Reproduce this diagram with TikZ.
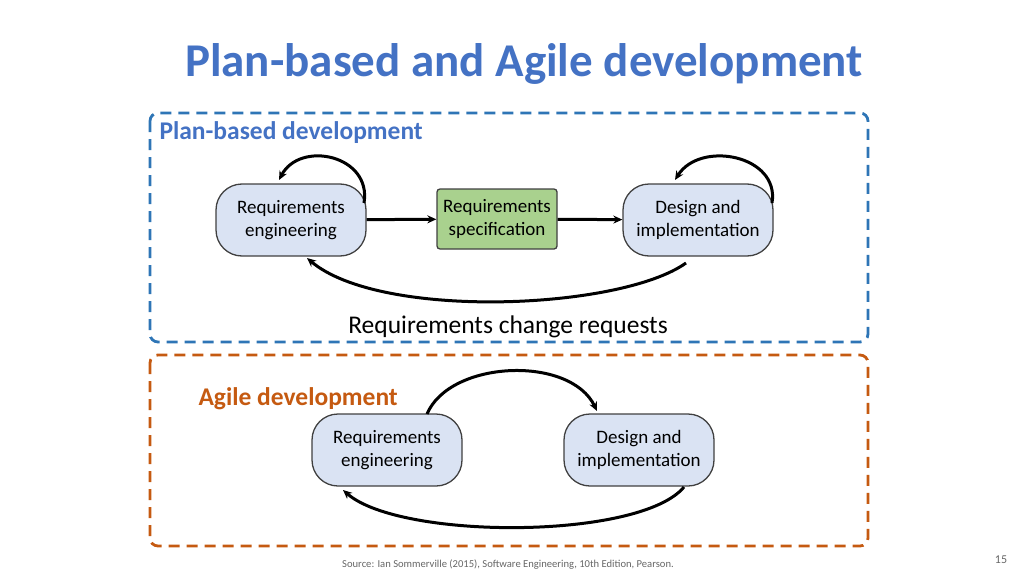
\documentclass[tikz,border=0pt]{standalone}
\usepackage{fontspec}
\setmainfont{Carlito}
\usetikzlibrary{arrows.meta}
\definecolor{tblue}{RGB}{68,114,196}
\definecolor{bblue}{RGB}{46,117,182}
\definecolor{orng}{RGB}{197,90,17}
\definecolor{pill}{RGB}{218,227,243}
\definecolor{grn}{RGB}{169,209,142}
\begin{document}
\begin{tikzpicture}[x=1pt,y=-1pt,
  proc/.style={draw=black!75,line width=1.3pt,fill=pill,rounded corners=26pt,minimum width=150pt,minimum height=72pt,align=center,font=\fontsize{19}{23}\selectfont},
  spec/.style={draw=black!75,line width=1.3pt,fill=grn,rounded corners=3pt,minimum width=120pt,minimum height=60pt,align=center,font=\fontsize{19}{23}\selectfont},
  arr/.style={line width=3pt,-{Stealth[length=9pt,width=8pt]}},
  box/.style={line width=2.8pt,dash pattern=on 11pt off 7pt,rounded corners=8pt}]
\useasboundingbox (0,0) rectangle (1024,575);
\node[font=\bfseries\fontsize{47}{52}\selectfont,text=tblue] (title) at (524,64) {Plan-based and Agile development};
\draw[box,draw=bblue] (150,113) rectangle (868,342);
\node[font=\bfseries\fontsize{25.5}{28}\selectfont,text=tblue,anchor=west] (pl) at (156,133) {Plan-based development};
\node[proc] (re1) at (291,220) {Requirements\\engineering};
\node[spec] (sp) at (497,219) {Requirements\\specification};
\node[proc] (di1) at (698,220) {Design and\\implementation};
\draw[arr] (re1) -- (sp);
\draw[arr] (sp) -- (di1);
\coordinate (a1) at (364,203); \coordinate (a2) at (279,180);
\draw[arr] (a1) .. controls (372,155) and (300,140) .. (a2);
\coordinate (b1) at (772,203); \coordinate (b2) at (675,180);
\draw[arr] (b1) .. controls (780,155) and (700,140) .. (b2);
\coordinate (c1) at (686,263); \coordinate (c2) at (307,258);
\draw[arr] (c1) .. controls (620,310) and (380,320) .. (c2);
\node[font=\fontsize{25.5}{28}\selectfont] (rcr) at (508,327) {Requirements change requests};
\draw[box,draw=orng] (150,355) rectangle (868,546);
\node[font=\bfseries\fontsize{25.5}{28}\selectfont,text=orng,anchor=west] (ag) at (195,399) {Agile development};
\node[proc] (re2) at (387,450) {Requirements\\engineering};
\node[proc] (di2) at (639,450) {Design and\\implementation};
\coordinate (d1) at (427,414); \coordinate (d2) at (597,411);
\draw[arr] (d1) .. controls (450,360) and (570,355) .. (d2);
\coordinate (e1) at (684,487); \coordinate (e2) at (343,490);
\draw[arr] (e1) .. controls (640,540) and (400,540) .. (e2);
\node[font=\fontsize{10.6}{12}\selectfont,text=black!60] (src) at (508,565) {Source: Ian Sommerville (2015), Software Engineering, 10th Edition, Pearson.};
\node[font=\fontsize{12}{14}\selectfont,text=black!60] (pg) at (1001,560) {15};
\end{tikzpicture}
\end{document}
